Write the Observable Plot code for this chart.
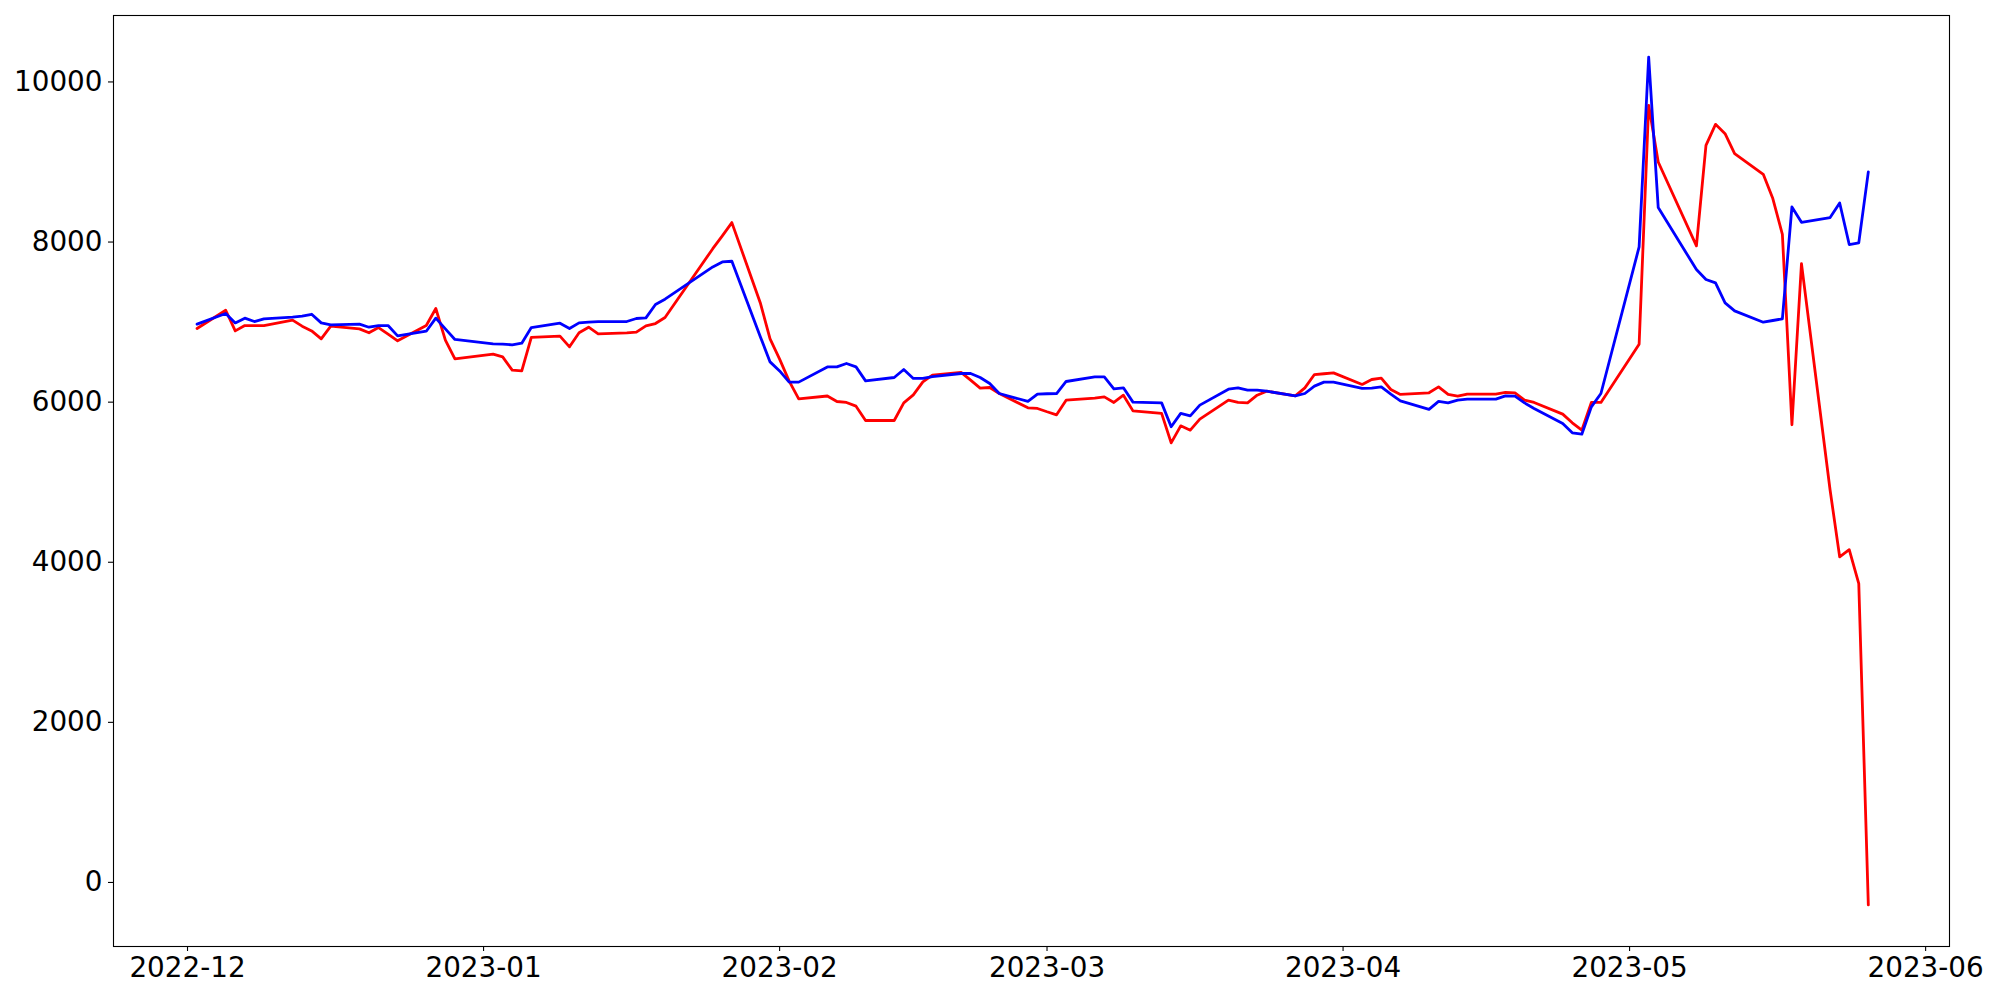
<!DOCTYPE html>
<html>
<head>
<meta charset="utf-8">
<script src="https://cdn.jsdelivr.net/npm/d3@7"></script>
<script src="https://cdn.jsdelivr.net/npm/@observablehq/plot@0.6"></script>
<style>
  html, body { margin: 0; padding: 0; background: #fff; }
  #chart { width: 2000px; height: 1000px; }
</style>
</head>
<body>
<div id="chart"></div>
<script>
const dates = [
  "2022-12-02","2022-12-05","2022-12-06","2022-12-07","2022-12-08","2022-12-09","2022-12-12","2022-12-13","2022-12-14","2022-12-15",
  "2022-12-16","2022-12-19","2022-12-20","2022-12-21","2022-12-22","2022-12-23","2022-12-26","2022-12-27","2022-12-28","2022-12-29",
  "2023-01-02","2023-01-03","2023-01-04","2023-01-05","2023-01-06","2023-01-09","2023-01-10","2023-01-11","2023-01-12","2023-01-13",
  "2023-01-16","2023-01-17","2023-01-18","2023-01-19","2023-01-20","2023-01-25","2023-01-26","2023-01-27","2023-01-30","2023-01-31",
  "2023-02-01","2023-02-02","2023-02-03","2023-02-06","2023-02-07","2023-02-08","2023-02-09","2023-02-10","2023-02-13","2023-02-14",
  "2023-02-15","2023-02-16","2023-02-17","2023-02-20","2023-02-21","2023-02-22","2023-02-23","2023-02-24","2023-02-27","2023-02-28",
  "2023-03-01","2023-03-02","2023-03-03","2023-03-06","2023-03-07","2023-03-08","2023-03-09","2023-03-10","2023-03-13","2023-03-14",
  "2023-03-15","2023-03-16","2023-03-17","2023-03-20","2023-03-21","2023-03-22","2023-03-23","2023-03-24","2023-03-27","2023-03-28",
  "2023-03-29","2023-03-30","2023-03-31",
  "2023-04-03","2023-04-04","2023-04-05","2023-04-06","2023-04-07","2023-04-10","2023-04-11","2023-04-12","2023-04-13","2023-04-14",
  "2023-04-17","2023-04-18","2023-04-19","2023-04-20","2023-04-21","2023-04-24","2023-04-25","2023-04-26","2023-04-27","2023-04-28",
  "2023-05-02","2023-05-03","2023-05-04","2023-05-08","2023-05-09","2023-05-10","2023-05-11","2023-05-12","2023-05-15","2023-05-16",
  "2023-05-17","2023-05-18","2023-05-19","2023-05-22","2023-05-23","2023-05-24","2023-05-25","2023-05-26"
];

const redValues = [
  6920, 7148, 6890, 6957, 6957, 6957, 7024, 6949, 6890, 6791,
  6949, 6915, 6866, 6932, 6850, 6766, 6957, 7170, 6774, 6541,
  6599, 6565, 6400, 6391, 6808, 6824, 6691, 6866, 6936, 6853,
  6865, 6874, 6953, 6982, 7057, 7917, 8077, 8243, 7232, 6790,
  6537, 6262, 6040, 6077, 6008, 5996, 5950, 5771, 5771, 5991,
  6091, 6254, 6337, 6371, 6275, 6175, 6183, 6108, 5929, 5921,
  5880, 5842, 6025, 6050, 6066, 5996, 6087, 5891, 5859, 5492,
  5704, 5650, 5788, 6025, 5996, 5991, 6087, 6137, 6079, 6179,
  6345, 6355, 6366,
  6221, 6283, 6300, 6158, 6096, 6117, 6191, 6096, 6075, 6100,
  6100, 6121, 6117, 6025, 5996, 5850, 5742, 5650, 5996, 5996,
  6724, 9708, 9000, 7952, 9208, 9470, 9354, 9105, 8846, 8543,
  8097, 5718, 7731, 4900, 4067, 4157, 3733, -280
];

const blueValues = [
  6974, 7107, 6990, 7049, 7007, 7040, 7063, 7075, 7098, 6990,
  6965, 6974, 6936, 6957, 6957, 6828, 6886, 7049, 6916, 6783,
  6728, 6725, 6716, 6737, 6932, 6986, 6920, 6990, 7000, 7007,
  7007, 7045, 7053, 7220, 7286, 7689, 7752, 7760, 6812, 6503,
  6390, 6250, 6250, 6440, 6440, 6483, 6441, 6266, 6308, 6408,
  6296, 6296, 6320, 6358, 6358, 6308, 6233, 6108, 6009, 6100,
  6105, 6108, 6258, 6316, 6316, 6166, 6179, 6000, 5991, 5692,
  5859, 5829, 5963, 6162, 6179, 6150, 6150, 6137, 6079, 6108,
  6200, 6250, 6250,
  6171, 6175, 6191, 6100, 6017, 5909, 6009, 5991, 6025, 6037,
  6037, 6079, 6075, 5991, 5921, 5734, 5617, 5600, 5941, 6108,
  7939, 10311, 8431, 7657, 7532, 7490, 7240, 7140, 6999, 7020,
  7040, 8438, 8247, 8306, 8488, 7969, 7989, 8876
];

const yTicks = [0, 2000, 4000, 6000, 8000, 10000];
const xTicks = ["2022-12-01","2023-01-01","2023-02-01","2023-03-01","2023-04-01","2023-05-01","2023-06-01"];

const parse = d3.utcParse("%Y-%m-%d");
const redData = dates.map((d, i) => ({date: parse(d), value: redValues[i]}));
const blueData = dates.map((d, i) => ({date: parse(d), value: blueValues[i]}));

const chart = Plot.plot({
  width: 2000,
  height: 1000,
  marginLeft: 113,
  marginRight: 51,
  marginTop: 15,
  marginBottom: 54,
  style: {fontFamily: "DejaVu Sans", fontSize: "27.8px", background: "#fff", color: "#000"},
  x: {type: "utc", domain: [new Date(Date.UTC(2022, 10, 23, 6)), new Date(Date.UTC(2023, 5, 3, 12))]},
  y: {domain: [-800, 10830]},
  marks: [
    Plot.axisX({
      ticks: xTicks.map(parse),
      tickFormat: d3.utcFormat("%Y-%m"),
      tickSize: 5,
      tickPadding: 6,
      label: null,
      fontSize: 27.8,
      stroke: "#000",
      strokeWidth: 1.1
    }),
    Plot.axisY({
      ticks: yTicks,
      tickFormat: d => String(d),
      tickSize: 5,
      tickPadding: 6,
      label: null,
      fontSize: 27.8,
      stroke: "#000",
      strokeWidth: 1.1
    }),
    Plot.line(redData, {x: "date", y: "value", stroke: "#ff0000", strokeWidth: 2.8, curve: "linear"}),
    Plot.line(blueData, {x: "date", y: "value", stroke: "#0000ff", strokeWidth: 2.8, curve: "linear"}),
    Plot.frame({stroke: "#000", strokeWidth: 1.1})
  ]
});
document.getElementById("chart").appendChild(chart);
</script>
</body>
</html>
